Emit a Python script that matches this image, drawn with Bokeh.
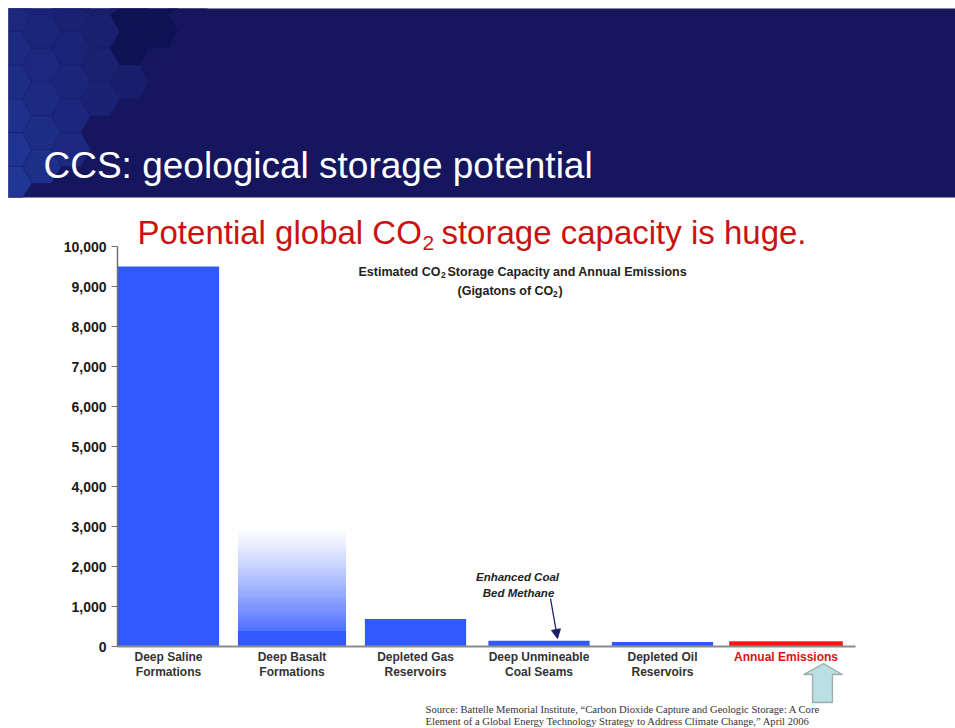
import math
import numpy as np
from bokeh.plotting import figure
from bokeh.models import (Label, BoxAnnotation, PolyAnnotation, Arrow, NormalHead,
                          FixedTicker, NumeralTickFormatter, Range1d)
from bokeh.embed import file_html
from bokeh.resources import INLINE

# ---------------- data ----------------
categories = ["Deep Saline\nFormations", "Deep Basalt\nFormations", "Depleted Gas\nReservoirs",
              "Deep Unmineable\nCoal Seams", "Depleted Oil\nReservoirs", "Annual Emissions"]
capacity = [9500, 400, 690, 145, 115, 130]          # Gt CO2 (solid bars)
basalt_upper = 3000                                  # faded upper estimate for basalt
y_ticks = [0, 1000, 2000, 3000, 4000, 5000, 6000, 7000, 8000, 9000, 10000]

# ---------------- styles / layout ----------------
BLUE = "#3058ff"
RED = "#ff1414"
bar_colors = [BLUE, BLUE, BLUE, BLUE, BLUE, RED]
bar_widths = [0.82, 0.875, 0.82, 0.82, 0.82, 0.92]
BAND = "#15165e"

W, H = 955, 728
X0, DX = 168.0, 123.5          # pixel x of first category, pixels per category
Y0, PPK = 646.0, 40.0          # pixel y of value 0, pixels per 1000
AX_L, AX_R = 117.0, 855.0      # axis extent in pixels


def xdat(px):
    return (px - X0) / DX


def ydat(py):
    return (Y0 - py) * 1000.0 / PPK


def sx(px):   # canvas px -> screen units (frame == canvas)
    return px


def sy(py):
    return H - py


xs = list(range(len(categories)))

p = figure(width=W, height=H, x_range=Range1d(xdat(0), xdat(W)), y_range=Range1d(ydat(H), ydat(0)),
           output_backend="svg", toolbar_location=None,
           min_border_left=0, min_border_right=0, min_border_top=0, min_border_bottom=0)
p.outline_line_color = None
p.xgrid.visible = False
p.ygrid.visible = False
p.background_fill_color = "white"
p.border_fill_color = "white"

# ---------------- header band with hexagons ----------------
p.add_layout(BoxAnnotation(left=sx(8), right=sx(W), top=sy(8), bottom=sy(197),
                           left_units="screen", right_units="screen",
                           top_units="screen", bottom_units="screen",
                           fill_color=BAND, fill_alpha=1, line_alpha=0, level="underlay"))

r = 19.5
s3 = math.sqrt(3)
lb = np.array([0x26, 0x48, 0xb4]) / 255.0
bb = np.array([0x15, 0x16, 0x5e]) / 255.0
for col in range(8):
    cx = 12 + col * 1.5 * r
    for row in range(-1, 7):
        cy = 14 + row * s3 * r + (col % 2) * s3 * r / 2
        if cx > 188 - 0.8 * (cy - 10):
            continue
        if cy - r * 0.87 > 197:
            continue
        t = min(max(cx / 190.0, 0), 1)
        a = 0.7 * (1 - t) * (0.5 + 0.5 * min(max(cy / 197.0, 0), 1))
        c = (1 - a) * bb + a * lb
        if cx > 110 and cy < 60:
            c = np.array([0x0f, 0x11, 0x55]) / 255.0
        hexcol = "#%02x%02x%02x" % tuple(int(round(v * 255)) for v in c)
        vx, vy = [], []
        for k in range(6):
            ang = math.radians(60 * k)
            vx.append(sx(min(max(cx + r * math.cos(ang), 8), W)))
            vy.append(sy(min(max(cy + r * math.sin(ang), 8), 197)))
        p.add_layout(PolyAnnotation(xs=vx, ys=vy, xs_units="screen", ys_units="screen",
                                    fill_color=hexcol, fill_alpha=1,
                                    line_color="#1a1c66", line_width=1.0, level="underlay"))

# ---------------- bars ----------------
p.vbar(x=xs, top=capacity, width=bar_widths, fill_color=bar_colors, line_alpha=0)

# basalt faded upper range (blend blue -> white)
n = 90
edges = np.linspace(capacity[1], basalt_upper, n + 1)
b = np.array([0x30, 0x58, 0xff]) / 255.0
cols = []
for i in range(n):
    t = (i + 0.5) / n
    a = 0.85 * (1 - t) ** 1.2
    c = (1 - a) * np.ones(3) + a * b
    cols.append("#%02x%02x%02x" % tuple(int(round(v * 255)) for v in c))
dy = (edges[1] - edges[0]) * 0.6
p.quad(left=[xs[1] - bar_widths[1] / 2] * n, right=[xs[1] + bar_widths[1] / 2] * n,
       bottom=list(edges[:-1]), top=list(edges[1:] + dy), fill_color=cols, line_alpha=0)
p.vbar(x=[xs[1]], top=[capacity[1]], width=bar_widths[1], fill_color=BLUE, line_alpha=0)

# ---------------- axes ----------------
yax = p.yaxis[0]
yax.fixed_location = xdat(AX_L)
yax.bounds = (y_ticks[0], y_ticks[-1])
yax.ticker = FixedTicker(ticks=y_ticks)
yax.formatter = NumeralTickFormatter(format="0,0")
yax.axis_line_color = "#707070"
yax.axis_line_width = 1.5
yax.major_tick_line_color = "#707070"
yax.major_tick_out = 6
yax.major_tick_in = 0
yax.minor_tick_line_color = None
yax.major_label_standoff = 5
yax.major_label_text_font = "Liberation Sans"
yax.major_label_text_font_style = "bold"
yax.major_label_text_font_size = "14px"
yax.major_label_text_color = "#1a1a1a"

xax = p.xaxis[0]
xax.fixed_location = 0
xax.bounds = (xdat(AX_L), xdat(AX_R))
xax.ticker = FixedTicker(ticks=xs[:-1])
xax.major_label_overrides = {i: categories[i] for i in xs[:-1]}
xax.axis_line_color = "#8c8c8c"
xax.axis_line_width = 2
xax.major_tick_line_color = None
xax.minor_tick_line_color = None
xax.major_tick_out = 0
xax.major_tick_in = 0
xax.major_label_standoff = 3
xax.major_label_text_font = "Liberation Sans"
xax.major_label_text_font_style = "bold"
xax.major_label_text_font_size = "12px"
xax.major_label_text_line_height = 1.1
xax.major_label_text_color = "#333333"


def lab(px, py, text, size, color="#222222", align="left", baseline="alphabetic",
        font="Liberation Sans", style="normal"):
    p.add_layout(Label(x=sx(px), y=sy(py), x_units="screen", y_units="screen", text=text,
                       text_font=font, text_font_size=size, text_color=color,
                       text_align=align, text_baseline=baseline, text_font_style=style))


lab(43, 165, "CCS: geological storage potential", "37px", color="white")

# red headline
RED_T = "#cc1111"
lab(137, 232, "Potential global CO", "33px", color=RED_T)
lab(422, 242, "2", "21px", color=RED_T)
lab(806, 232, "storage capacity is huge.", "33px", color=RED_T, align="right")

# chart title
lab(358, 271, "Estimated CO", "12.5px", style="bold")
lab(440.5, 274, "2", "8.5px", style="bold")
lab(447, 271, "Storage Capacity and Annual Emissions", "12.5px", style="bold")
lab(457, 290, "(Gigatons of CO", "12.5px", style="bold")
lab(552.5, 293, "2", "8.5px", style="bold")
lab(558, 290, ")", "12.5px", style="bold")

# annual emissions category label (red)
p.add_layout(Label(x=xs[-1], y=sy(656), x_units="data", y_units="screen", text=categories[-1],
                   text_font="Liberation Sans", text_font_size="12px", text_font_style="bold",
                   text_color="#e01010", text_align="center", text_baseline="middle"))

# ECBM note + arrow
lab(517, 576, "Enhanced Coal", "11.5px", align="center", baseline="middle", style="bold italic")
lab(518, 592, "Bed Methane", "11.5px", align="center", baseline="middle", style="bold italic")
NAVY = "#1c1c6b"
p.add_layout(Arrow(end=NormalHead(size=9, fill_color=NAVY, line_color=NAVY),
                   x_start=sx(550), y_start=sy(598), x_end=sx(557), y_end=sy(638),
                   start_units="screen", end_units="screen", line_color=NAVY, line_width=1.3))

# big light-blue up arrow
ax = [823, 842, 832, 832, 812, 812, 803]
ay = [663, 674, 674, 702, 702, 674, 674]
p.add_layout(PolyAnnotation(xs=[sx(v) for v in ax], ys=[sy(v) for v in ay],
                            xs_units="screen", ys_units="screen",
                            fill_color="#b9dfe2", fill_alpha=1, line_color="#111111", line_width=1.3))

# source
lab(425, 709, "Source:  Battelle Memorial Institute, \u201cCarbon Dioxide Capture and Geologic Storage: A Core",
    "10.6px", color="#333333", font="Liberation Serif")
lab(425, 721, "Element of a Global Energy Technology Strategy to Address Climate Change,\u201d April 2006",
    "10.6px", color="#333333", font="Liberation Serif")

open("out.html", "w").write(file_html(p, INLINE))
